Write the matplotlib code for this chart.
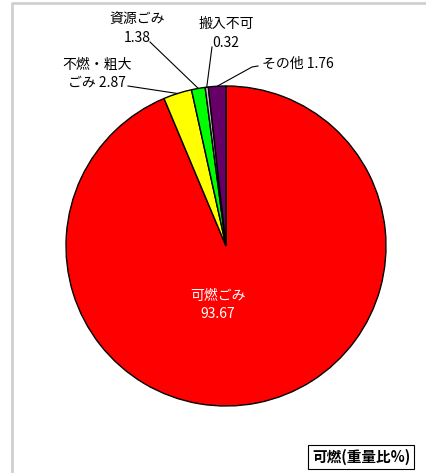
import numpy as np
import matplotlib
matplotlib.use('Agg')
import matplotlib.pyplot as plt

plt.rcParams['font.family'] = ['Noto Sans CJK JP', 'DejaVu Sans']

# ================= データ =================
categories = ['可燃ごみ', '不燃・粗大\nごみ', '資源ごみ', '搬入不可', 'その他']
values = [93.67, 2.87, 1.38, 0.32, 1.76]
colors = ['#FF0000', '#FFFF00', '#00FF00', '#C0C0C0', '#660066']
legend_title = '可燃(重量比%)'

W, H = 427, 473
fig = plt.figure(figsize=(W / 100, H / 100), dpi=100)
ax = fig.add_axes([0, 0, 1, 1])
ax.set_xlim(0, W)
ax.set_ylim(0, H)
ax.axis('off')

def py(y):
    # 画像座標(上から) -> データ座標
    return H - y

cx, cy, r = 226, py(246), 160
wedges, _ = ax.pie(values, colors=colors, startangle=90, counterclock=False,
                   center=(cx, cy), radius=r, frame=True,
                   wedgeprops=dict(edgecolor='black', linewidth=1.0))
ax.set_xlim(0, W)
ax.set_ylim(0, H)
ax.axis('off')

# 外枠(薄いグレー)
ax.plot([12, 12, W], [0, py(3), py(3)], color='#D0D0D0', lw=2, clip_on=False)

# 可燃ごみ (内側ラベル)
ax.text(218, py(296), categories[0], color='white', fontsize=10, ha='center', va='center')
ax.text(218, py(314), f'{values[0]:.2f}', color='white', fontsize=10, ha='center', va='center')

def edge_point(w):
    a = np.deg2rad((w.theta1 + w.theta2) / 2)
    return cx + r * np.cos(a), cy + r * np.sin(a)

# 外側ラベル + 引き出し線
# 不燃・粗大ごみ
ex, ey = edge_point(wedges[1])
ax.text(97, py(65), '不燃・粗大', fontsize=10, ha='center', va='center')
ax.text(97, py(83), f'ごみ {values[1]:.2f}', fontsize=10, ha='center', va='center')
ax.plot([128, ex], [py(86), ey], color='black', lw=0.8)

# 資源ごみ
ex, ey = edge_point(wedges[2])
ax.text(137, py(20), categories[2], fontsize=10, ha='center', va='center')
ax.text(137, py(38), f'{values[2]:.2f}', fontsize=10, ha='center', va='center')
ax.plot([150, ex], [py(42), ey], color='black', lw=0.8)

# 搬入不可
ex, ey = edge_point(wedges[3])
ax.text(226, py(24), categories[3], fontsize=10, ha='center', va='center')
ax.text(226, py(43), f'{values[3]:.2f}', fontsize=10, ha='center', va='center')
ax.plot([212, ex], [py(47), ey], color='black', lw=0.8)

# その他
ex, ey = edge_point(wedges[4])
ax.text(262, py(64), f'{categories[4]} {values[4]:.2f}', fontsize=10, ha='left', va='center')
ax.plot([258, 252, ex], [py(66), py(67), ey], color='black', lw=0.8)

# 凡例ボックス
ax.text(361, py(457), legend_title, fontsize=10.5, fontweight='bold', ha='center', va='center',
        bbox=dict(boxstyle='square,pad=0.25', facecolor='white', edgecolor='black', lw=0.8))

fig.savefig('out.png', dpi=100)
